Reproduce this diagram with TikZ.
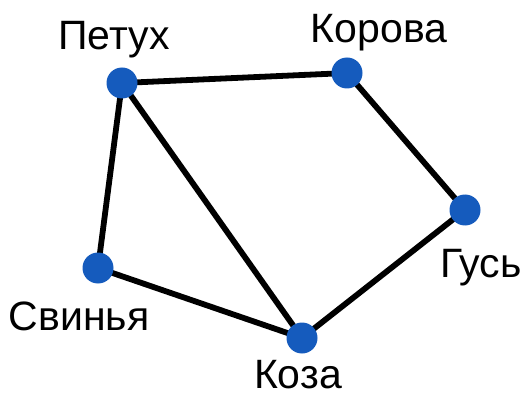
\documentclass[tikz,border=0pt]{standalone}
\usepackage{fontspec}
\setmainfont{Liberation Sans}
\usetikzlibrary{backgrounds}
\definecolor{dotblue}{RGB}{21,91,189}
\tikzset{
  vertex/.style={circle,fill=dotblue,draw=none,minimum size=31pt,inner sep=0pt},
  lbl/.style={anchor=base,inner sep=0pt,font=\fontsize{41}{48}\selectfont},
  edge/.style={line width=5.8pt,black}
}
\begin{document}
\begin{tikzpicture}[x=1pt,y=1pt]
\useasboundingbox (0,0) rectangle (527,394);
\node[vertex] (p) at (122,311) {};
\node[vertex] (k) at (347,321) {};
\node[vertex] (g) at (465,184) {};
\node[vertex] (s) at (98,126) {};
\node[vertex] (z) at (302,56) {};
\node[lbl] (lp) at (114,344) {Петух};
\node[lbl] (lk) at (379,351) {Корова};
\node[lbl] (ls) at (79,64) {Свинья};
\node[lbl] (lg) at (481,117) {Гусь};
\node[lbl] (lz) at (298,6) {Коза};
\begin{scope}[on background layer]
\draw[edge] (p.center) -- (k.center);
\draw[edge] (k.center) -- (g.center);
\draw[edge] (g.center) -- (z.center);
\draw[edge] (z.center) -- (s.center);
\draw[edge] (s.center) -- (p.center);
\draw[edge] (p.center) -- (z.center);
\end{scope}
\end{tikzpicture}
\end{document}
